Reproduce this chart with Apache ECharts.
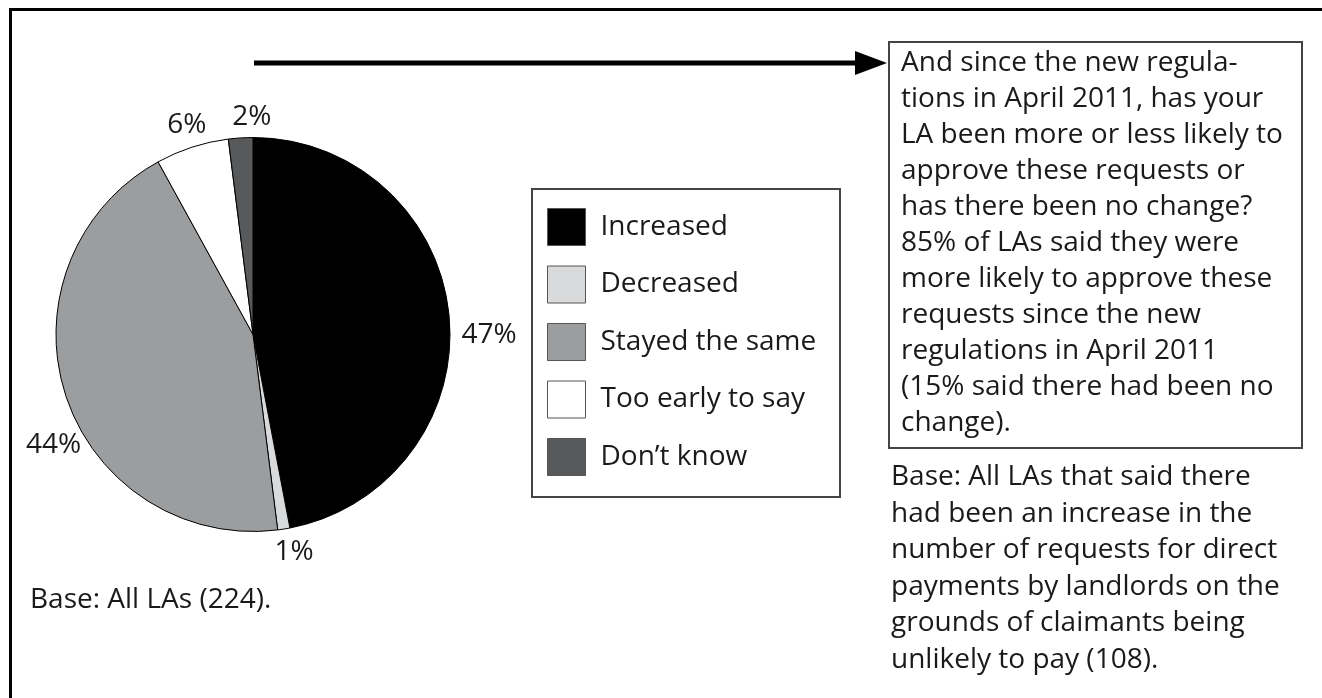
<!DOCTYPE html>
<html>
<head>
<meta charset="utf-8">
<script src="https://cdn.jsdelivr.net/npm/echarts@6/dist/echarts.min.js"></script>
<style>
  html, body { margin: 0; padding: 0; background: #fff; }
  #chart { width: 1322px; height: 698px; }
</style>
</head>
<body>
<div id="chart"></div>
<script>
// answers and their shares (%)
const categories = ['Increased', 'Decreased', 'Stayed the same', 'Too early to say', 'Don\u2019t know']
const values = [47, 1, 44, 6, 2]
const sliceColors = ['#000000', '#d9dadc', '#9c9d9f', '#ffffff', '#58595b']

const baseLeft = 'Base: All LAs (224).'
const noteLines = [
  'And since the new regula-',
  'tions in April 2011, has your',
  'LA been more or less likely to',
  'approve these requests or',
  'has there been no change?',
  '85% of LAs said they were',
  'more likely to approve these',
  'requests since the new',
  'regulations in April 2011',
  '(15% said there had been no',
  'change).'
]
const baseRightLines = [
  'Base: All LAs that said there',
  'had been an increase in the',
  'number of requests for direct',
  'payments by landlords on the',
  'grounds of claimants being',
  'unlikely to pay (108).'
]

const FONT = '"Open Sans", sans-serif'
const FS = 28
const CX = 253, CY = 334.5, R = 197

// label placement: distance from centre and angular nudge (deg) per slice
const labelDist = [236, 221, 228, 220, 217]
const labelTurn = [5.5, -1.7, -11, 0.5, 3.3]

const total = values.reduce((a, b) => a + b, 0)
function midAngle(i) {
  let before = 0
  for (let k = 0; k < i; k++) before += values[k]
  return (before + values[i] / 2) / total * 360
}

const chart = echarts.init(document.getElementById('chart'))

const option = {
  backgroundColor: '#fff',
  animation: false,
  legend: {
    orient: 'vertical',
    left: 547,
    top: 208,
    icon: 'rect',
    itemWidth: 38,
    itemHeight: 37,
    itemGap: 19.5,
    padding: 0,
    data: categories,
    itemStyle: { borderColor: '#555', borderWidth: 1 },
    textStyle: { fontFamily: FONT, fontSize: FS, color: '#1a1a1a', padding: [0, 0, 0, 10] }
  },
  series: [
    {
      type: 'pie',
      center: [CX, CY],
      radius: R,
      startAngle: 90,
      clockwise: true,
      data: categories.map((name, i) => ({
        name,
        value: values[i],
        itemStyle: { color: sliceColors[i] }
      })),
      itemStyle: { borderColor: '#000', borderWidth: 1 },
      label: {
        show: true,
        position: 'outside',
        formatter: '{c}%',
        fontFamily: FONT,
        fontSize: FS,
        color: '#1a1a1a',
        overflow: 'none'
      },
      labelLine: { show: false },
      labelLayout: function (params) {
        const i = params.dataIndex
        const a = (midAngle(i) + labelTurn[i]) * Math.PI / 180
        return {
          x: CX + labelDist[i] * Math.sin(a),
          y: CY - labelDist[i] * Math.cos(a),
          align: 'center',
          verticalAlign: 'middle'
        }
      },
      emphasis: { disabled: true }
    }
  ],
  graphic: [
    // outer frame (top and left edges)
    {
      type: 'polyline',
      shape: { points: [[10.5, 698], [10.5, 9.5], [1322, 9.5]] },
      style: { stroke: '#000', lineWidth: 3, fill: null }
    },
    // arrow
    {
      type: 'line',
      shape: { x1: 254, y1: 63, x2: 858, y2: 63 },
      style: { stroke: '#000', lineWidth: 5 }
    },
    {
      type: 'polygon',
      shape: { points: [[855, 51], [887, 63], [855, 75]] },
      style: { fill: '#000' }
    },
    // legend box
    {
      type: 'rect',
      shape: { x: 532, y: 189, width: 308, height: 308 },
      style: { fill: null, stroke: '#444', lineWidth: 2 }
    },
    // note box
    {
      type: 'rect',
      shape: { x: 889, y: 42, width: 413, height: 406 },
      style: { fill: '#fff', stroke: '#444', lineWidth: 2 }
    },
    {
      type: 'text',
      left: 901,
      top: 45,
      style: {
        text: noteLines.join('\n'),
        font: FS + 'px ' + FONT,
        lineHeight: 36,
        fill: '#1a1a1a'
      }
    },
    {
      type: 'text',
      left: 891,
      top: 459,
      style: {
        text: baseRightLines.join('\n'),
        font: FS + 'px ' + FONT,
        lineHeight: 36.5,
        fill: '#1a1a1a'
      }
    },
    {
      type: 'text',
      left: 30,
      top: 586,
      style: {
        text: baseLeft,
        font: FS + 'px ' + FONT,
        fill: '#1a1a1a'
      }
    }
  ]
}

chart.setOption(option)
</script>
</body>
</html>
